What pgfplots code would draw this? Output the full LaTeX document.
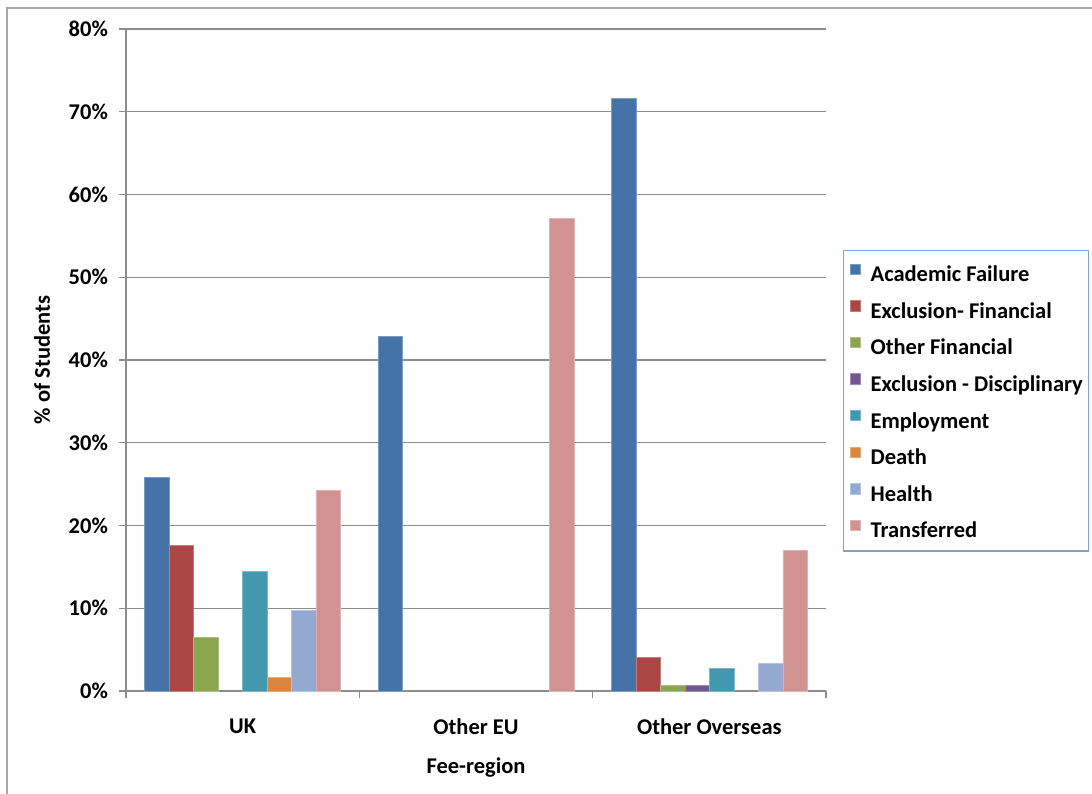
\documentclass[border=0pt]{standalone}
\usepackage{pgfplots}
\pgfplotsset{compat=1.18}
\usepackage{fontspec}
\setmainfont{Carlito}
\definecolor{cA}{HTML}{4572A7}
\definecolor{cB}{HTML}{AA4643}
\definecolor{cC}{HTML}{89A54E}
\definecolor{cD}{HTML}{71588F}
\definecolor{cE}{HTML}{4198AF}
\definecolor{cF}{HTML}{DB843D}
\definecolor{cG}{HTML}{93A9CF}
\definecolor{cH}{HTML}{D19392}
\definecolor{gridgray}{HTML}{8C8C8C}
\definecolor{legblue}{HTML}{7FA2CF}
\newcommand{\lblfont}{\bfseries\fontsize{11.25}{13}\selectfont}
\begin{document}
\begin{tikzpicture}
\useasboundingbox (0,0) rectangle (546pt,396.5pt);
\draw[color=gray!70, line width=0.6pt] (3.5pt,-20pt) rectangle (570pt,392.5pt);
\begin{axis}[
  at={(63pt,51pt)}, anchor=south west,
  scale only axis, width=350pt, height=331pt,
  ymin=0, ymax=80,
  ytick={0,10,20,30,40,50,60,70,80},
  yticklabels={0\%,10\%,20\%,30\%,40\%,50\%,60\%,70\%,80\%},
  xmin=-0.5, xmax=2.5,
  xtick={-0.5,0.5,1.5,2.5},
  xticklabels={UK,Other EU,Other Overseas},
  x tick label as interval,
  axis x line*=bottom, axis y line*=left,
  axis line style={color=gridgray, line width=0.6pt},
  tick align=outside, major tick length=3.5pt,
  tick style={color=gridgray, line width=0.6pt},
  ymajorgrids, grid style={color=gridgray, line width=0.6pt},
  ybar=0pt, bar width=0.105,
  tick label style={font=\lblfont, text=black},
  yticklabel style={xshift=-2pt},
  xticklabel style={yshift=-7pt},
  xlabel={Fee-region},
  ylabel={\% of Students},
  every axis y label/.style={at={(axis description cs:-0.12,0.5)}, rotate=90, anchor=center, font=\lblfont},
  every axis x label/.style={at={(axis description cs:0.5,-0.115)}, anchor=center, font=\lblfont},
  legend style={at={(rel axis cs:1.0243,0.6662)}, anchor=north west,
    draw=legblue, line width=0.6pt, font=\lblfont, row sep=9.2pt,
    inner xsep=3pt, inner ysep=6.5pt,
    nodes={inner sep=0pt, text height=8.5pt, text depth=0pt},
    /tikz/every odd column/.append style={column sep=5pt}},
  legend cell align=left,
  legend image code/.code={\fill[#1] (0pt,-0.5pt) rectangle (5.2pt,4.7pt);},
]
\addplot[fill=cA, draw=cA!70!white, line width=0.3pt] coordinates {(0,25.8) (1,42.9) (2,71.6)};
\addplot[fill=cB, draw=cB!70!white, line width=0.3pt] coordinates {(0,17.6) (2,4.1)};
\addplot[fill=cC, draw=cC!70!white, line width=0.3pt] coordinates {(0,6.5) (2,0.7)};
\addplot[fill=cD, draw=cD!70!white, line width=0.3pt] coordinates {(2,0.7)};
\addplot[fill=cE, draw=cE!70!white, line width=0.3pt] coordinates {(0,14.5) (2,2.7)};
\addplot[fill=cF, draw=cF!70!white, line width=0.3pt] coordinates {(0,1.6)};
\addplot[fill=cG, draw=cG!70!white, line width=0.3pt] coordinates {(0,9.7) (2,3.3)};
\addplot[fill=cH, draw=cH!70!white, line width=0.3pt] coordinates {(0,24.2) (1,57.1) (2,17.0)};
\legend{Academic Failure, Exclusion- Financial, Other Financial, Exclusion - Disciplinary, Employment, Death, Health, Transferred}
\end{axis}
\end{tikzpicture}
\end{document}
